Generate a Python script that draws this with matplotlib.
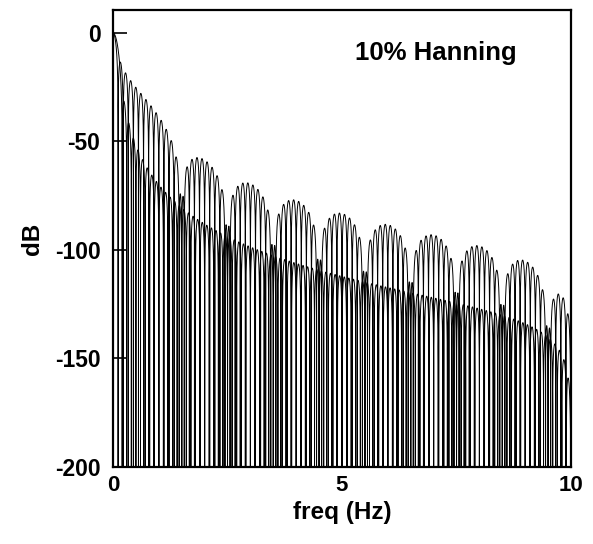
import numpy as np
import matplotlib
matplotlib.use("Agg")
import matplotlib.pyplot as plt

# ---- data / parameters ----
title_text = "10% Hanning"
x_label = "freq (Hz)"
y_label = "dB"
x_ticks = [0, 5, 10]
y_ticks = [0, -50, -100, -150, -200]
x_limits = [0, 10]
y_limits = [-200, 10.5]

record_length = 10.0      # s
sample_interval = 0.05    # s  (Nyquist 10 Hz)
taper_fraction = 0.10     # fraction of record tapered at each end (upper curve)
hann_fraction = 0.50      # full Hanning window (lower curve)

freqs = np.linspace(0.0, 10.0, 40001)


def tukey(t, T, frac):
    B = frac * T
    w = np.ones_like(t)
    lo = t < B
    hi = t > T - B
    w[lo] = 0.5 * (1 - np.cos(np.pi * t[lo] / B))
    w[hi] = 0.5 * (1 - np.cos(np.pi * (T - t[hi]) / B))
    return w


def amplitude_db(w, t, f):
    c = 0.5 * (t[0] + t[-1])
    A = np.cos(2 * np.pi * np.outer(f, t - c)) @ w
    A = A / w.sum()
    # insert the exact zero crossings (real amplitude of a symmetric window)
    s = np.sign(A)
    idx = np.where(s[:-1] * s[1:] < 0)[0]
    f0 = f[idx] - A[idx] * (f[idx + 1] - f[idx]) / (A[idx + 1] - A[idx])
    ff = np.concatenate([f, f0])
    AA = np.concatenate([A, np.zeros_like(f0)])
    order = np.argsort(ff, kind="stable")
    ff, AA = ff[order], AA[order]
    db = 20 * np.log10(np.maximum(np.abs(AA), 1e-15))
    return ff, db


t = np.arange(int(round(record_length / sample_interval)) + 1) * sample_interval
w_upper = tukey(t, record_length, taper_fraction)
w_lower = tukey(t, record_length, hann_fraction)

f_up, db_up = amplitude_db(w_upper, t, freqs)
f_lo, db_lo = amplitude_db(w_lower, t, freqs)

plt.rcParams['font.family'] = ['Liberation Sans', 'DejaVu Sans']
plt.rcParams['font.weight'] = 'bold'

fig = plt.figure(figsize=(5.93, 5.44), dpi=100)
ax = fig.add_axes([113 / 593, 1 - 467 / 544, 458 / 593, 457 / 544])

ax.plot(f_lo, db_lo, color="black", lw=0.7)
ax.plot(f_up, db_up, color="black", lw=0.7)

ax.set_xlim(*x_limits)
ax.set_ylim(*y_limits)
ax.set_xticks(x_ticks)
ax.set_yticks(y_ticks)
ax.set_xticklabels([str(v) for v in x_ticks], fontsize=16, fontweight='bold')
ax.set_yticklabels([str(v) for v in y_ticks], fontsize=16.5, fontweight='bold')
ax.tick_params(direction='in', length=10, width=1.2)
ax.tick_params(axis='x', pad=6)
ax.tick_params(axis='y', pad=9)
for sp in ax.spines.values():
    sp.set_linewidth(1.6)

ax.set_xlabel(x_label, fontsize=17.5, fontweight='bold', labelpad=3)
ax.set_ylabel(y_label, fontsize=17.5, fontweight='bold', labelpad=8)
ax.text(0.705, 0.905, title_text, transform=ax.transAxes, ha='center', va='center',
        fontsize=18.5, fontweight='bold')

fig.savefig("out.png", dpi=100)
